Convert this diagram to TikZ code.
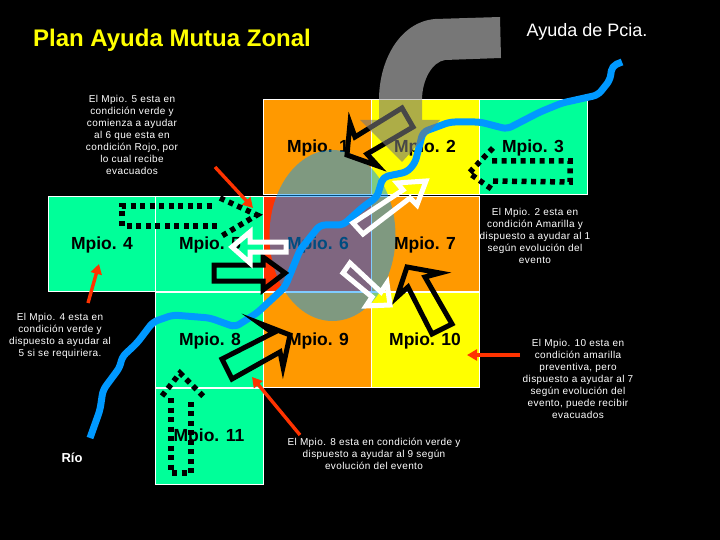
\documentclass[tikz,border=0pt]{standalone}
\usepackage{fontspec}
\setmainfont{Liberation Sans}
\usetikzlibrary{arrows.meta}
\definecolor{cgreen}{HTML}{00FF99}
\definecolor{corange}{HTML}{FF9900}
\definecolor{cyellow}{HTML}{FFFF00}
\definecolor{cred}{HTML}{FF3300}
\definecolor{criver}{HTML}{0099FF}
\definecolor{cpipe}{HTML}{777777}
\tikzset{
  mpio/.style={font=\fontsize{17.5}{20}\selectfont\bfseries,text=black,inner sep=0pt},
  note/.style={font=\fontsize{10}{12}\selectfont\addfontfeatures{LetterSpace=4},text=white,align=center,inner sep=0pt},
  bk/.style={draw=black,line width=5pt,miter limit=10,line join=miter},
  wh/.style={draw=white,line width=5pt,miter limit=10,line join=miter},
  dot/.style={draw=black,line width=5.5pt,dash pattern=on 5pt off 4.5pt},
  redarrow/.style={draw=cred,line width=3.4pt,-{Triangle[length=10pt,width=11pt]}},
}
\begin{document}
\begin{tikzpicture}[x=1pt,y=-1pt]
\fill[black] (0,0) rectangle (720,540);
\useasboundingbox (0,0) rectangle (720,540);
% pipe, opaque part
\fill[cpipe] (500,17) -- (501,58) -- (445,60) .. controls (432,62) and (422,80) .. (422,100) -- (379,100) .. controls (379,60) and (400,22) .. (435,19) -- cycle;
% cells
\foreach \n/\x/\y/\w/\c in {a/263/99/108/corange,b/371/99/108/cyellow,c/479/99/108/cgreen,
  d/48/196/107/cgreen,e/155/196/108/cgreen,f/263/196/108/cred,g/371/196/108/corange,
  h/155/292/108/cgreen,i/263/292/108/corange,j/371/292/108/cyellow,k/155/388.5/108/cgreen}{
  \filldraw[draw=white,line width=.8pt,fill=\c] (\x,\y) rectangle ++(\w,95.5);
}
% labels
\node[mpio] (m1) at (318,148) {Mpio. 1};
\node[mpio] (m2) at (425,148) {Mpio. 2};
\node[mpio] (m3) at (533,148) {Mpio. 3};
\node[mpio] (m4) at (102,245) {Mpio. 4};
\node[mpio] (m5) at (210,245) {Mpio. 5};
\node[mpio] (m6) at (318,245) {Mpio. 6};
\node[mpio] (m7) at (425,245) {Mpio. 7};
\node[mpio] (m8) at (210,341) {Mpio. 8};
\node[mpio] (m9) at (318,341) {Mpio. 9};
\node[mpio] (m10) at (425,341) {Mpio. 10};
\node[mpio] (m11) at (209,437) {Mpio. 11};
% ellipse
\fill[criver,fill opacity=.5] (332.5,235.5) ellipse (63 and 85.5);
% river
\draw[criver,line width=7pt,line join=round,rounded corners=5pt] (622,62) -- (612,66) -- (610,80) -- (598,95) -- (562,103) -- (540,112) -- (507,129) -- (480,122) -- (450,122) -- (423,132) -- (415,163) -- (407,172) -- (383,177) -- (377,197) -- (363,207) -- (343,225) -- (320,225) -- (300,250) -- (285,287) -- (257,313) -- (235,327) -- (210,318) -- (173,315) -- (153,322) -- (137,343) -- (122,357) -- (120,367) -- (103,390) -- (100,410) -- (90,438);
% dotted arrows
\draw[dot] (217,226) -- (122,226) -- (122,206) -- (213,206);
\draw[dot] (220,198) -- (257,215) -- (220,237);
\draw[dot] (492,161) -- (570,161) -- (570,182) -- (493,181);
\draw[dot] (493,148) -- (469,173) -- (493,190);
\draw[dot] (171,398) -- (171,473) -- (191,473) -- (191,397);
\draw[dot] (162,396) -- (180,373) -- (205,398);
% block arrows
\draw[bk] (402,108) -- (355,137) -- (350,123) -- (347,155) -- (378,166) -- (367,154) -- (413,127) -- cycle;
\draw[bk] (214,265) -- (263,265) -- (263,257) -- (285,273) -- (263,290) -- (263,281) -- (214,281) -- cycle;
\draw[bk] (222,359) -- (273,333) -- (259,323) -- (290,335) -- (283,367) -- (280,352) -- (232,379) -- cycle;
\draw[bk] (432,334) -- (408,287) -- (397,297) -- (407,267) -- (440,273) -- (425,277) -- (452,324) -- cycle;
\draw[wh] (353,223) -- (403,190) -- (397,183) -- (426,181) -- (417,205) -- (410,198) -- (363,234) -- cycle;
\draw[wh] (286,242) -- (250,242) -- (250,232) -- (232,247) -- (250,263) -- (250,252) -- (286,252) -- cycle;
\draw[wh] (350,263) -- (381,292) -- (387,283) -- (390,305) -- (366,306) -- (372,297) -- (343,273) -- cycle;
% pipe head, translucent over the cells
\fill[cpipe,fill opacity=.6] (379,99.5) -- (422,99.5) -- (422,120) -- (440,120) -- (402,162) -- (360,120) -- (379,120) -- cycle;
% red arrows
\coordinate (r1a) at (215,167); \coordinate (r1b) at (253,208);
\coordinate (r2a) at (88,303); \coordinate (r2b) at (99,264);
\coordinate (r3a) at (520,355); \coordinate (r3b) at (467,355);
\coordinate (r4a) at (300,435); \coordinate (r4b) at (252,377);
\draw[redarrow] (r1a) -- (r1b);
\draw[redarrow] (r2a) -- (r2b);
\draw[redarrow] (r3a) -- (r3b);
\draw[redarrow] (r4a) -- (r4b);
% text
\node[text=cyellow,font=\fontsize{24}{28}\selectfont\bfseries,inner sep=0pt] (title) at (172,40.5) {Plan Ayuda Mutua Zonal};
\node[text=white,font=\fontsize{18}{21}\selectfont,inner sep=0pt] (pcia) at (587,32) {Ayuda de Pcia.};
\node[text=white,font=\fontsize{13}{15}\selectfont\bfseries,inner sep=0pt] (rio) at (72,458) {Río};
\node[note] (n1) at (132,134.5) {El Mpio. 5 esta en\\condición verde y\\comienza a ayudar\\al 6 que esta en\\condición Rojo, por\\lo cual recibe\\evacuados};
\node[note] (n2) at (60,336) {El Mpio. 4 esta en\\condición verde y\\dispuesto a ayudar al\\5 si se requiriera.};
\node[note] (n3) at (374,454) {El Mpio. 8 esta en condición verde y\\dispuesto a ayudar al 9 según\\evolución del evento};
\node[note] (n4) at (535,236) {El Mpio. 2 esta en\\condición Amarilla y\\dispuesto a ayudar al 1\\según evolución del\\evento};
\node[note] (n5) at (578,378.5) {El Mpio. 10 esta en\\condición amarilla\\preventiva, pero\\dispuesto a ayudar al 7\\según evolución del\\evento, puede recibir\\evacuados};
\end{tikzpicture}
\end{document}
